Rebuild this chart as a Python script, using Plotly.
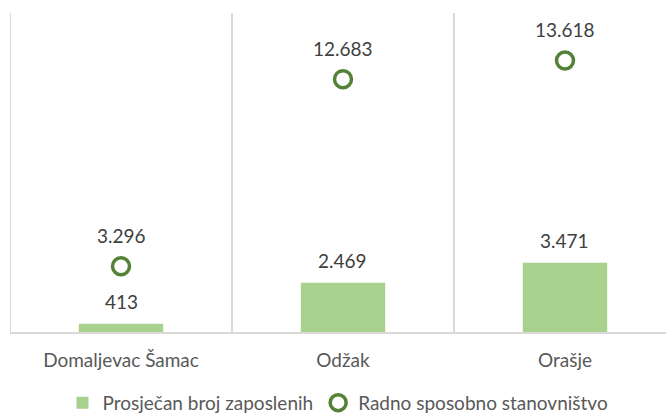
import plotly.graph_objects as go

categories = ["Domaljevac Šamac", "Odžak", "Orašje"]
zaposleni = [413, 2469, 3471]
stanovnistvo = [3296, 12683, 13618]
zap_labels = ["413", "2.469", "3.471"]
stan_labels = ["3.296", "12.683", "13.618"]

xpos = list(range(len(categories)))
font_family = "Lato, 'Open Sans', sans-serif"
label_color = "#404040"
axis_color = "#595959"
fsize = 19

fig = go.Figure()
fig.add_trace(go.Bar(
    x=xpos, y=zaposleni, name="Prosječan broj zaposlenih",
    marker=dict(color="#a9d18e", line=dict(width=0)),
    width=0.38,
))
fig.add_trace(go.Scatter(
    x=xpos, y=stanovnistvo, name="Radno sposobno stanovništvo",
    mode="markers",
    marker=dict(symbol="circle-open", size=17, color="#538135", line=dict(width=3.5, color="#538135")),
    cliponaxis=False,
))

for xv, yv, t in zip(xpos, zaposleni, zap_labels):
    fig.add_annotation(x=xv, y=yv, text=t, showarrow=False, yanchor="middle", yshift=22,
                       font=dict(size=fsize, color=label_color, family=font_family))
for xv, yv, t in zip(xpos, stanovnistvo, stan_labels):
    fig.add_annotation(x=xv, y=yv, text=t, showarrow=False, yanchor="middle", yshift=31,
                       font=dict(size=fsize, color=label_color, family=font_family))

for xv in [-0.5, 0.5, 1.5]:
    fig.add_shape(type="line", xref="x", yref="paper", x0=xv, x1=xv, y0=0, y1=1,
                  line=dict(color="#d9d9d9", width=2), layer="below")

fig.update_layout(
    width=666, height=415,
    margin=dict(l=10, r=0, t=13, b=83, autoexpand=False),
    paper_bgcolor="white", plot_bgcolor="white",
    font=dict(family=font_family, size=fsize, color=axis_color),
    showlegend=True,
    legend=dict(orientation="h", x=0.5, xanchor="center", y=-0.222, yanchor="middle",
                font=dict(size=fsize, color=axis_color), itemwidth=30),
)
fig.update_xaxes(range=[-0.5, 2.455], tickvals=xpos, ticktext=categories,
                 showgrid=False, zeroline=False, showline=True, linecolor="#d9d9d9", linewidth=2,
                 ticks="", ticklabelstandoff=10, automargin=False,
                 tickfont=dict(size=fsize, color=axis_color))
fig.update_yaxes(range=[0, 16000], showgrid=False, zeroline=False, showticklabels=False,
                 showline=False, automargin=False)

fig.write_html("out.html", config={"displayModeBar": False},
               post_script="document.body.style.margin='0';")
